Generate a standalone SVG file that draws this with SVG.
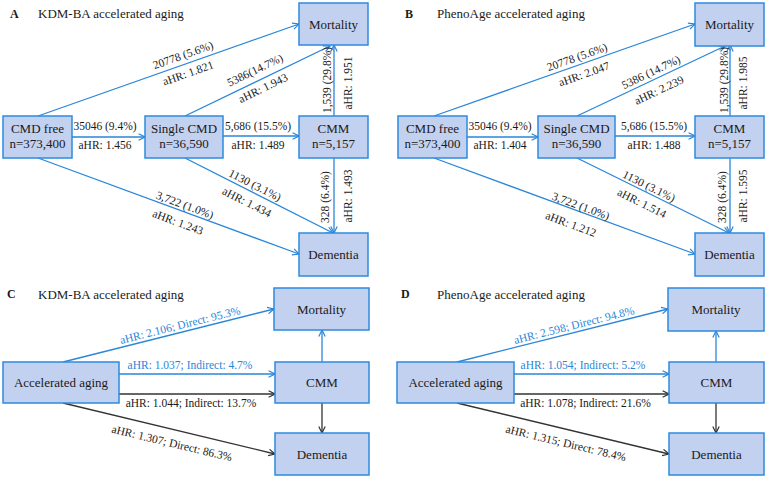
<svg xmlns="http://www.w3.org/2000/svg" width="767" height="479" viewBox="0 0 767 479">
<defs>
<style>
text{font-family:"Liberation Serif","Times New Roman",Tinos,"DejaVu Serif",serif}
.box{fill:#c3d1f0;stroke:#2d8ae0;stroke-width:1.5}
.bt{font-size:13px;fill:#1a1a1a;text-anchor:middle}
.lt{font-size:11.5px;fill:#1a1a1a;text-anchor:middle}
.lb{font-size:11.5px;fill:#2a86d8;text-anchor:middle}
.ttl{font-size:13px;fill:#1a1a1a}
.let{font-size:12px;font-weight:bold;fill:#1a1a1a}
.eb{stroke:#2a86d8;stroke-width:1.3;fill:none;marker-end:url(#ab)}
.ek{stroke:#333333;stroke-width:1.3;fill:none;marker-end:url(#ak)}
</style>
<marker id="ab" viewBox="0 0 10 10" refX="9" refY="5" markerWidth="8" markerHeight="8" markerUnits="userSpaceOnUse" orient="auto"><path d="M1,1 L9,5 L1,9" fill="none" stroke="#2a86d8" stroke-width="1.5"/></marker>
<marker id="ak" viewBox="0 0 10 10" refX="9" refY="5" markerWidth="8" markerHeight="8" markerUnits="userSpaceOnUse" orient="auto"><path d="M1,1 L9,5 L1,9" fill="none" stroke="#333333" stroke-width="1.5"/></marker>
</defs>
<rect width="767" height="479" fill="#ffffff"/>

<g id="titles" font-family="Liberation Serif, serif">
<text class="let" x="10" y="18">A</text>
<text class="ttl" x="38" y="18">KDM-BA accelerated aging</text>
<text class="let" x="405" y="18">B</text>
<text class="ttl" x="437" y="18">PhenoAge accelerated aging</text>
<text class="let" x="7" y="298">C</text>
<text class="ttl" x="38" y="299">KDM-BA accelerated aging</text>
<text class="let" x="401" y="298">D</text>
<text class="ttl" x="437" y="299">PhenoAge accelerated aging</text>
</g>

<g id="connectors">
<line class="eb" x1="38" y1="116" x2="299" y2="24"/>
<line class="eb" x1="72" y1="137" x2="145" y2="137"/>
<line class="eb" x1="185" y1="116" x2="330" y2="46"/>
<line class="eb" x1="223" y1="136" x2="299" y2="136"/>
<line class="eb" x1="334" y1="116" x2="334" y2="45"/>
<line class="eb" x1="38" y1="158" x2="299" y2="254"/>
<line class="eb" x1="185" y1="158" x2="333" y2="233"/>
<line class="eb" x1="334" y1="158" x2="334" y2="233"/>
<line class="eb" x1="434" y1="116" x2="695" y2="24"/>
<line class="eb" x1="467" y1="137" x2="538" y2="137"/>
<line class="eb" x1="577" y1="116" x2="725" y2="46"/>
<line class="eb" x1="615" y1="136" x2="695" y2="136"/>
<line class="eb" x1="730" y1="116" x2="730" y2="45"/>
<line class="eb" x1="434" y1="158" x2="695" y2="254"/>
<line class="eb" x1="577" y1="158" x2="729" y2="233"/>
<line class="eb" x1="730" y1="158" x2="730" y2="233"/>
<line class="eb" x1="63" y1="362" x2="274" y2="309"/>
<line class="eb" x1="119" y1="374" x2="275" y2="374"/>
<line class="ek" x1="119" y1="394" x2="275" y2="394"/>
<line class="eb" x1="322" y1="362" x2="322" y2="330"/>
<line class="ek" x1="322" y1="403" x2="322" y2="433"/>
<line class="ek" x1="63" y1="403" x2="275" y2="454"/>
<line class="eb" x1="457" y1="362" x2="668" y2="309"/>
<line class="eb" x1="514" y1="374" x2="669" y2="374"/>
<line class="ek" x1="514" y1="394" x2="669" y2="394"/>
<line class="eb" x1="716" y1="362" x2="716" y2="331"/>
<line class="ek" x1="716" y1="403" x2="716" y2="433"/>
<line class="ek" x1="457" y1="403" x2="669" y2="454"/>
</g>

<g id="labels" font-family="Liberation Serif, serif">
<text class="lt" transform="translate(183,55) rotate(-19.42)" y="4">20778 (5.6%)</text>
<text class="lt" transform="translate(188,73) rotate(-19.42)" y="4">aHR: 1.821</text>
<text class="lt" transform="translate(255,70) rotate(-25.77)" y="4">5386(14.7%)</text>
<text class="lt" transform="translate(263,88) rotate(-25.77)" y="4">aHR: 1.943</text>
<text class="lt" x="105" y="130">35046 (9.4%)</text>
<text class="lt" x="105" y="149">aHR: 1.456</text>
<text class="lt" x="258" y="130">5,686 (15.5%)</text>
<text class="lt" x="258" y="149">aHR: 1.489</text>
<text class="lt" transform="translate(327,80) rotate(-90)" y="4">1,539 (29.8%)</text>
<text class="lt" transform="translate(348,83) rotate(-90)" y="4">aHR: 1.951</text>
<text class="lt" transform="translate(325,197) rotate(-90)" y="4">328 (6.4%)</text>
<text class="lt" transform="translate(348,196) rotate(-90)" y="4">aHR: 1.493</text>
<text class="lt" transform="translate(255,185) rotate(26.87)" y="4">1130 (3.1%)</text>
<text class="lt" transform="translate(247,202) rotate(26.87)" y="4">aHR: 1.434</text>
<text class="lt" transform="translate(185,205) rotate(20.19)" y="4">3,722 (1.0%)</text>
<text class="lt" transform="translate(178,222) rotate(20.19)" y="4">aHR: 1.243</text>
<text class="lt" transform="translate(577,57) rotate(-19.42)" y="4">20778 (5.6%)</text>
<text class="lt" transform="translate(584,74) rotate(-19.42)" y="4">aHR: 2.047</text>
<text class="lt" transform="translate(651,72) rotate(-25.3)" y="4">5386 (14.7%)</text>
<text class="lt" transform="translate(659,90) rotate(-25.3)" y="4">aHR: 2.239</text>
<text class="lt" x="500" y="130">35046 (9.4%)</text>
<text class="lt" x="500" y="149">aHR: 1.404</text>
<text class="lt" x="654" y="130">5,686 (15.5%)</text>
<text class="lt" x="654" y="149">aHR: 1.488</text>
<text class="lt" transform="translate(724,80) rotate(-90)" y="4">1,539 (29.8%)</text>
<text class="lt" transform="translate(743,83) rotate(-90)" y="4">aHR: 1.985</text>
<text class="lt" transform="translate(722,197) rotate(-90)" y="4">328 (6.4%)</text>
<text class="lt" transform="translate(743,196) rotate(-90)" y="4">aHR: 1.595</text>
<text class="lt" transform="translate(649,186) rotate(26.26)" y="4">1130 (3.1%)</text>
<text class="lt" transform="translate(642,203) rotate(26.26)" y="4">aHR: 1.514</text>
<text class="lt" transform="translate(581,206) rotate(20.19)" y="4">3,722 (1.0%)</text>
<text class="lt" transform="translate(571,224) rotate(20.19)" y="4">aHR: 1.212</text>
<text class="lb" transform="translate(180,325) rotate(-14.1)" y="4">aHR: 2.106; Direct: 95.3%</text>
<text class="lb" x="190" y="369">aHR: 1.037; Indirect: 4.7%</text>
<text class="lt" x="191" y="407">aHR: 1.044; Indirect: 13.7%</text>
<text class="lt" transform="translate(172,443) rotate(13.53)" y="4">aHR: 1.307; Direct: 86.3%</text>
<text class="lb" transform="translate(574,325) rotate(-14.1)" y="4">aHR: 2.598; Direct: 94.8%</text>
<text class="lb" x="583" y="369">aHR: 1.054; Indirect: 5.2%</text>
<text class="lt" x="585.5" y="407">aHR: 1.078; Indirect: 21.6%</text>
<text class="lt" transform="translate(566,443) rotate(13.53)" y="4">aHR: 1.315; Direct: 78.4%</text>
</g>

<g id="A-mortality"><rect class="box" x="299" y="3" width="69" height="42"/><text class="bt" x="333.5" y="28.5">Mortality</text></g>
<g id="A-cmdfree"><rect class="box" x="3" y="116" width="69" height="42"/><text class="bt" x="37.5" y="133">CMD free</text><text class="bt" x="37.5" y="148">n=373,400</text></g>
<g id="A-single"><rect class="box" x="145" y="116" width="78" height="42"/><text class="bt" x="184" y="133">Single CMD</text><text class="bt" x="184" y="148">n=36,590</text></g>
<g id="A-cmm"><rect class="box" x="299" y="116" width="69" height="42"/><text class="bt" x="333.5" y="133">CMM</text><text class="bt" x="333.5" y="148">n=5,157</text></g>
<g id="A-dementia"><rect class="box" x="299" y="233" width="69" height="43"/><text class="bt" x="333.5" y="259">Dementia</text></g>

<g id="B-mortality"><rect class="box" x="695" y="3" width="69" height="43"/><text class="bt" x="729.5" y="28.5">Mortality</text></g>
<g id="B-cmdfree"><rect class="box" x="398" y="116" width="69" height="42"/><text class="bt" x="432.5" y="133">CMD free</text><text class="bt" x="432.5" y="148">n=373,400</text></g>
<g id="B-single"><rect class="box" x="538" y="116" width="77" height="42"/><text class="bt" x="576.5" y="133">Single CMD</text><text class="bt" x="576.5" y="148">n=36,590</text></g>
<g id="B-cmm"><rect class="box" x="695" y="116" width="69" height="42"/><text class="bt" x="729.5" y="133">CMM</text><text class="bt" x="729.5" y="148">n=5,157</text></g>
<g id="B-dementia"><rect class="box" x="695" y="233" width="69" height="43"/><text class="bt" x="729.5" y="259">Dementia</text></g>

<g id="C-mortality"><rect class="box" x="274" y="288" width="95" height="42"/><text class="bt" x="321.5" y="314">Mortality</text></g>
<g id="C-aging"><rect class="box" x="3" y="362" width="116" height="41"/><text class="bt" x="61" y="387">Accelerated aging</text></g>
<g id="C-cmm"><rect class="box" x="275" y="362" width="94" height="41"/><text class="bt" x="322" y="387">CMM</text></g>
<g id="C-dementia"><rect class="box" x="275" y="433" width="94" height="42"/><text class="bt" x="322" y="459">Dementia</text></g>

<g id="D-mortality"><rect class="box" x="668" y="288" width="96" height="43"/><text class="bt" x="716" y="314">Mortality</text></g>
<g id="D-aging"><rect class="box" x="397" y="362" width="117" height="41"/><text class="bt" x="455.5" y="387">Accelerated aging</text></g>
<g id="D-cmm"><rect class="box" x="669" y="362" width="95" height="41"/><text class="bt" x="716.5" y="387">CMM</text></g>
<g id="D-dementia"><rect class="box" x="669" y="433" width="95" height="42"/><text class="bt" x="716.5" y="459">Dementia</text></g>
</svg>
